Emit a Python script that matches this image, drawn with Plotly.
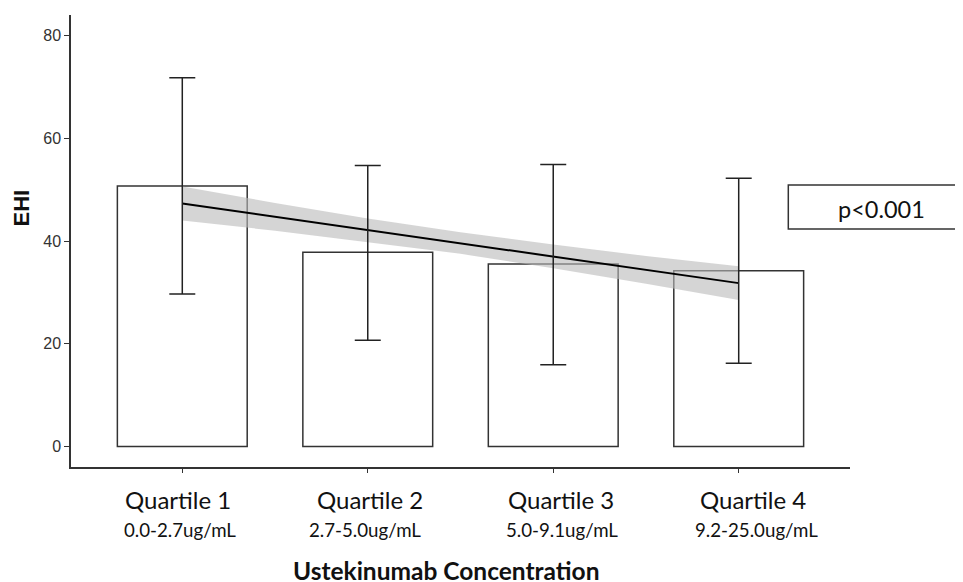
import plotly.graph_objects as go

# ---- data ----
quartiles = ["Quartile 1", "Quartile 2", "Quartile 3", "Quartile 4"]
conc_ranges = ["0.0-2.7ug/mL", "2.7-5.0ug/mL", "5.0-9.1ug/mL", "9.2-25.0ug/mL"]
quartile_pos = [1, 2, 3, 4]
ehi_mean = [50.7, 37.8, 35.5, 34.2]
ehi_upper = [71.8, 54.7, 54.9, 52.2]
ehi_lower = [29.7, 20.7, 15.9, 16.2]

fit_x = [1, 1.5, 2, 2.5, 3, 3.5, 4]
fit_y = [47.3, 44.7, 42.1, 39.6, 37.0, 34.4, 31.8]
ci_upper = [50.6, 47.4, 44.4, 41.7, 39.3, 37.1, 35.1]
ci_lower = [44.0, 42.0, 39.8, 37.5, 34.7, 31.7, 28.5]

y_ticks = [0, 20, 40, 60, 80]
p_text = "p<0.001"
x_title = "Ustekinumab Concentration"
y_title = "EHI"

# ---- styles ----
label_xshift = [-4, 2, 8, 14]
sub_xshift = [-2, -3, 9, 18]
dark = "#333333"
label_font = "Lato, 'Open Sans', sans-serif"

fig = go.Figure()

fig.add_trace(go.Bar(
    x=quartile_pos, y=ehi_mean, width=0.7,
    marker=dict(color="white", line=dict(color=dark, width=1.5)),
    showlegend=False, hoverinfo="skip"))

fig.add_trace(go.Scatter(
    x=fit_x + fit_x[::-1], y=ci_upper + ci_lower[::-1],
    fill="toself", fillcolor="rgba(185,185,185,0.6)",
    line=dict(width=0), mode="lines", showlegend=False, hoverinfo="skip"))

fig.add_trace(go.Scatter(
    x=fit_x, y=fit_y, mode="lines",
    line=dict(color="black", width=2), showlegend=False))

fig.add_trace(go.Scatter(
    x=quartile_pos, y=ehi_mean, mode="markers",
    marker=dict(size=1, color="rgba(0,0,0,0)"),
    error_y=dict(type="data", symmetric=False,
                 array=[u - m for u, m in zip(ehi_upper, ehi_mean)],
                 arrayminus=[m - l for m, l in zip(ehi_mean, ehi_lower)],
                 color="#222222", thickness=1.5, width=13),
    showlegend=False))

annotations = []
for i, (q, r) in enumerate(zip(quartiles, conc_ranges)):
    annotations.append(dict(x=quartile_pos[i], y=0, xref="x", yref="paper",
                            text=q, showarrow=False, yanchor="middle",
                            yshift=-32, xshift=label_xshift[i],
                            font=dict(family=label_font, size=24, color="#111")))
    annotations.append(dict(x=quartile_pos[i], y=0, xref="x", yref="paper",
                            text=r, showarrow=False, yanchor="middle",
                            yshift=-63, xshift=sub_xshift[i],
                            font=dict(family=label_font, size=18.7, color="#111")))

annotations.append(dict(x=0.4814, y=0, xref="paper", yref="paper", text="<b>" + x_title + "</b>",
                        showarrow=False, yanchor="middle", yshift=-103,
                        font=dict(family=label_font, size=24.5, color="#111")))
annotations.append(dict(x=-0.0648, y=0.573, xref="paper", yref="paper", text="<b>" + y_title + "</b>",
                        showarrow=False, textangle=-90, xanchor="center", yanchor="middle",
                        font=dict(family="Liberation Sans, Arial, sans-serif", size=22, color="#111")))
annotations.append(dict(x=1.0398, y=0.571, xref="paper", yref="paper", text=p_text,
                        showarrow=False, xanchor="center", yanchor="middle",
                        font=dict(family=label_font, size=23.5, color="#111")))

# page has an 8px body margin, so the figure is 8px smaller and margins shifted
fig.update_layout(
    width=955, height=574,
    margin=dict(l=63, r=113, t=7, b=115),
    paper_bgcolor="white", plot_bgcolor="white",
    bargap=0.3,
    annotations=annotations,
    shapes=[dict(type="rect", xref="paper", yref="paper",
                 x0=0.9208, x1=1.2, y0=0.5265, y1=0.6239,
                 line=dict(color=dark, width=1.5), fillcolor="rgba(0,0,0,0)")],
    xaxis=dict(range=[0.4, 4.6], tickvals=quartile_pos, showticklabels=False,
               ticks="outside", ticklen=4, tickcolor=dark, tickwidth=1.2,
               showline=True, linecolor=dark, linewidth=1.5,
               showgrid=False, zeroline=False),
    yaxis=dict(range=[-4, 84], tickvals=y_ticks,
               ticks="outside", ticklen=5, tickcolor=dark, tickwidth=1.2,
               showline=True, linecolor=dark, linewidth=1.5,
               showgrid=False, zeroline=False,
               tickfont=dict(family="Liberation Sans, Arial, sans-serif", size=16, color=dark)),
)

fig.write_html("out.html")
